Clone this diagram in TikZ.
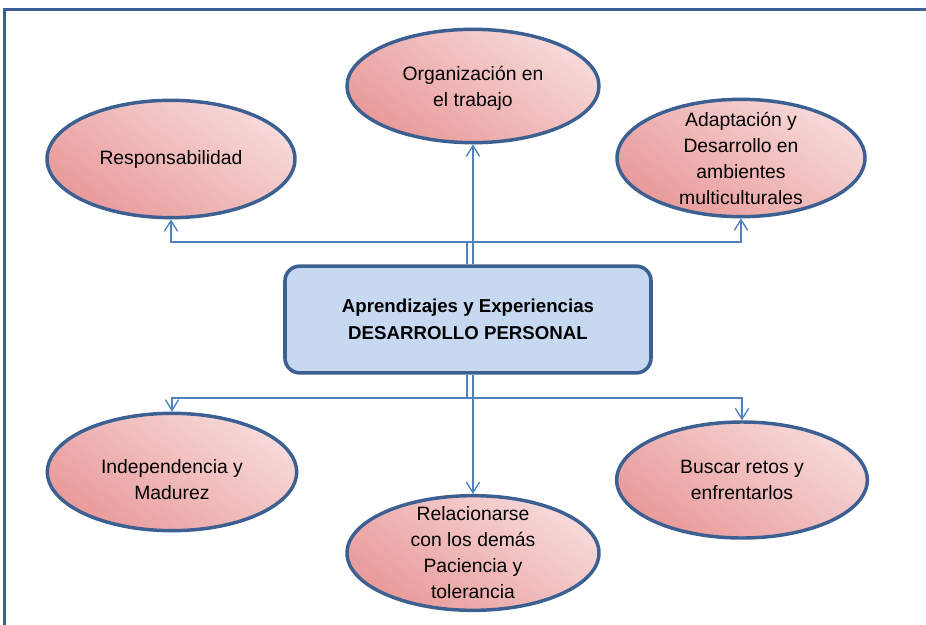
\documentclass[tikz,border=0pt]{standalone}
\usepackage{fontspec}
\setmainfont{Liberation Sans}
\usetikzlibrary{arrows.meta,shapes.geometric}
\definecolor{edgeblue}{HTML}{3C6091}
\definecolor{linkblue}{HTML}{4F81BD}
\definecolor{hubfill}{HTML}{C6D9F1}
\definecolor{pinkdark}{HTML}{E99A9A}
\definecolor{pinklight}{HTML}{F7D9D9}
\begin{document}
\begin{tikzpicture}[x=0.75pt,y=-0.75pt,
  bubble/.style={ellipse, draw=edgeblue, line width=2.6pt, inner sep=0pt,
    top color=pinklight, bottom color=pinkdark, shading angle=-35},
  bubbletext/.style={align=center, inner sep=0pt,
    font=\fontsize{14.5}{19.5}\selectfont},
  hub/.style={rectangle, rounded corners=11pt, draw=edgeblue, line width=2.7pt,
    fill=hubfill, minimum width=274.5pt, minimum height=80pt, align=center,
    font=\fontsize{14}{20}\selectfont\bfseries},
  link/.style={draw=linkblue, line width=1pt},
  tip/.style={link, -{Straight Barb[length=8pt,width=10pt]}}
]
\useasboundingbox (0,0) rectangle (926,625);

% outer frame (only its top and left edges fall inside the page)
\draw[edgeblue, line width=2.6pt] (926,9.5) -- (4.5,9.5) -- (4.5,625);

% central box
\node[hub] (hub) at (468,319.5) {Aprendizajes y Experiencias\\DESARROLLO PERSONAL};

% surrounding ellipses
\node[bubble, minimum width=189pt, minimum height=85pt] (org) at (473,86) {};
\node[bubble, minimum width=186pt, minimum height=88pt] (resp) at (171,159) {};
\node[bubble, minimum width=186pt, minimum height=88pt] (adap) at (741,158) {};
\node[bubble, minimum width=187pt, minimum height=88pt] (indep) at (172,472) {};
\node[bubble, minimum width=189pt, minimum height=86pt] (rel) at (473,553) {};
\node[bubble, minimum width=188pt, minimum height=87pt] (busc) at (742,480) {};

% ellipse texts
\node[bubbletext] (torg) at ([yshift=-1.5pt]org.center) {Organización en\\el trabajo};
\node[bubbletext] (tresp) at (resp.center) {Responsabilidad};
\node[bubbletext] (tadap) at (adap.center) {Adaptación y\\Desarrollo en\\ambientes\\multiculturales};
\node[bubbletext] (tindep) at ([yshift=-6pt]indep.center) {Independencia y\\Madurez};
\node[bubbletext] (trel) at (rel.center) {Relacionarse\\con los demás\\Paciencia y\\tolerancia};
\node[bubbletext] (tbusc) at (busc.center) {Buscar retos y\\enfrentarlos};

% junction points of the branching connectors
\coordinate (jtop) at (467,242);
\coordinate (jbot) at (467,398);

% upper connectors
\draw[link] (hub.north -| jtop) -- (jtop);
\draw[tip] (jtop) -| (resp.south);
\draw[tip] (jtop) -| (adap.south);
\draw[tip] (hub.north -| org.south) -- (org.south);

% lower connectors
\draw[link] (hub.south -| jbot) -- (jbot);
\draw[tip] (jbot) -| (indep.north);
\draw[tip] (jbot) -| (busc.north);
\draw[tip] (hub.south -| rel.north) -- (rel.north);
\end{tikzpicture}
\end{document}
